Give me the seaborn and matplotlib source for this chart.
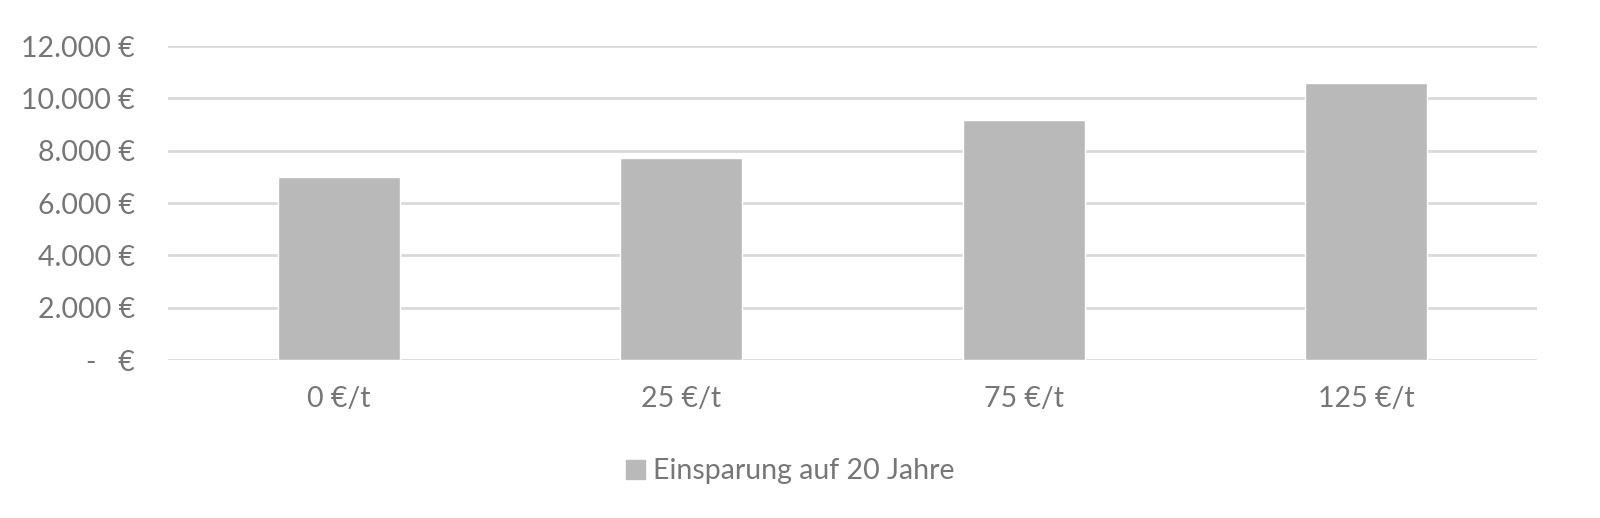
import seaborn as sns
import matplotlib.pyplot as plt
from matplotlib.ticker import FuncFormatter
import matplotlib.patches as mpatches
import pandas as pd

# chart data
categories = ['0 €/t', '25 €/t', '75 €/t', '125 €/t']
savings = [7000, 7730, 9160, 10600]
series_name = 'Einsparung auf 20 Jahre'

df = pd.DataFrame({'Preis': categories, 'Einsparung': savings})

sns.set_style('white')
plt.rcParams['font.family'] = ['Lato', 'DejaVu Sans']

text_gray = '#767676'
bar_gray = '#b9b9b9'
grid_gray = '#d9d9d9'

fig = plt.figure(figsize=(16, 5.18), dpi=100)
ax = fig.add_axes([0.105, 0.305, 0.8556, 0.606])

sns.barplot(data=df, x='Preis', y='Einsparung', color=bar_gray, width=0.356,
            saturation=1, ax=ax, zorder=3)

ax.set_xlim(-0.5, 3.5)
ax.set_ylim(0, 12000)
ax.set_yticks(range(0, 12001, 2000))


def euro(v, pos):
    if v == 0:
        return '-   €'
    return f'{v:,.0f} €'.replace(',', '.')


ax.yaxis.set_major_formatter(FuncFormatter(euro))
ax.grid(axis='y', color=grid_gray, linewidth=2, zorder=0)
ax.set_axisbelow(True)
for s in ax.spines.values():
    s.set_visible(False)
ax.tick_params(axis='both', length=0, labelsize=20.5, colors=text_gray)
ax.tick_params(axis='y', pad=24)
ax.tick_params(axis='x', pad=19)
ax.set_xlabel('')
ax.set_ylabel('')

handle = mpatches.Patch(color=bar_gray, label=series_name)
fig.legend(handles=[handle], loc='center', bbox_to_anchor=(0.494, 0.09),
           frameon=False, fontsize=20.5, labelcolor=text_gray,
           handlelength=0.65, handleheight=0.65, handletextpad=0.3)

fig.savefig('out.png', dpi=100)
